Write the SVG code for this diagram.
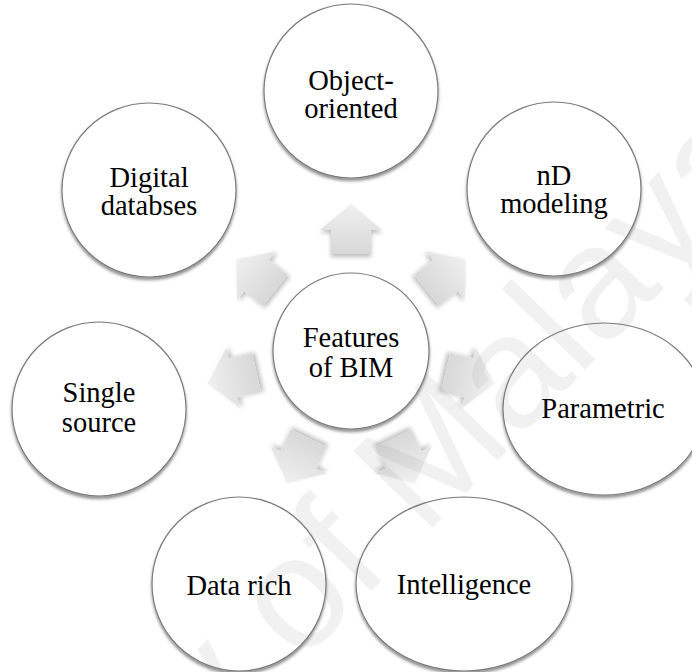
<svg xmlns="http://www.w3.org/2000/svg" width="692" height="672" viewBox="0 0 692 672">
  <defs>
    <style>
      .node { fill: #ffffff; stroke: #7a7a7a; stroke-width: 1.2; filter: url(#nshadow); }
      .arrow { fill: url(#agrad); filter: url(#ashadow); }
    </style>
    <filter id="nshadow" x="-20%" y="-20%" width="140%" height="145%">
      <feDropShadow dx="0" dy="2.5" stdDeviation="1.6" flood-color="#000000" flood-opacity="0.45"/>
    </filter>
    <filter id="ashadow" x="-40%" y="-40%" width="180%" height="180%">
      <feDropShadow dx="0" dy="3" stdDeviation="2.2" flood-color="#000000" flood-opacity="0.25"/>
    </filter>
    <linearGradient id="agrad" x1="0" y1="0" x2="0" y2="1">
      <stop offset="0" stop-color="#f0f0f0"/>
      <stop offset="1" stop-color="#d8d8d8"/>
    </linearGradient>
    <path id="arr" d="M0,-147 L31,-121 L20,-121 L20,-97 L-20,-97 L-20,-121 L-31,-121 Z"/>
  </defs>
  <rect width="692" height="672" fill="#ffffff"/>

  <g id="connectors" transform="translate(351,351)">
    <use href="#arr" class="arrow" transform="rotate(0)"/>
    <use href="#arr" class="arrow" transform="rotate(51.43)"/>
    <use href="#arr" class="arrow" transform="rotate(102.86)"/>
    <use href="#arr" class="arrow" transform="rotate(154.29)"/>
    <use href="#arr" class="arrow" transform="rotate(205.71)"/>
    <use href="#arr" class="arrow" transform="rotate(257.14)"/>
    <use href="#arr" class="arrow" transform="rotate(308.57)"/>
  </g>

  <g font-family="'Liberation Serif', 'Times New Roman', serif" font-size="28.5" fill="#000000" text-anchor="middle">
    <g id="center">
      <circle class="node" cx="351" cy="351" r="78"/>
      <text x="351" y="347">Features</text>
      <text x="351" y="377">of BIM</text>
    </g>
    <g id="object-oriented">
      <circle class="node" cx="351" cy="91" r="87"/>
      <text x="351" y="90">Object-</text>
      <text x="351" y="118">oriented</text>
    </g>
    <g id="nd-modeling">
      <circle class="node" cx="554" cy="189" r="87"/>
      <text x="554" y="185">nD</text>
      <text x="554" y="213">modeling</text>
    </g>
    <g id="parametric">
      <ellipse class="node" cx="604" cy="409" rx="101" ry="86"/>
      <text x="603" y="418">Parametric</text>
    </g>
    <g id="intelligence">
      <ellipse class="node" cx="464" cy="584" rx="108" ry="87"/>
      <text x="464" y="594">Intelligence</text>
    </g>
    <g id="data-rich">
      <circle class="node" cx="239" cy="584" r="87"/>
      <text x="239" y="595">Data rich</text>
    </g>
    <g id="single-source">
      <circle class="node" cx="99" cy="409" r="87"/>
      <text x="99" y="402">Single</text>
      <text x="99" y="432">source</text>
    </g>
    <g id="digital-databases">
      <circle class="node" cx="149" cy="190" r="87"/>
      <text x="149" y="187">Digital</text>
      <text x="149" y="215">databses</text>
    </g>
  </g>

  <text font-family="'Liberation Sans', Arial, sans-serif" font-size="160" fill="#8a8a8a" opacity="0.11" transform="translate(300,665) rotate(-46)" x="-747" y="0">University of Malaya</text>
</svg>
